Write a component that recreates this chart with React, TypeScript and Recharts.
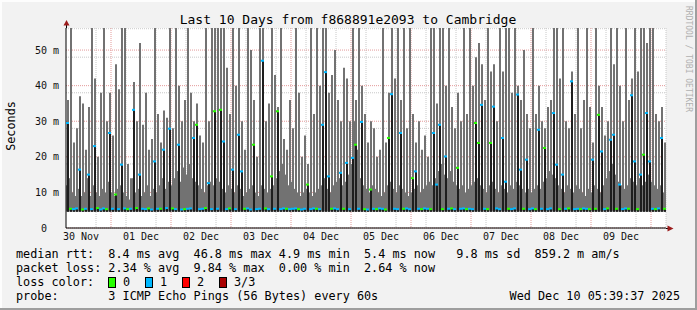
import { Bar, CartesianGrid, ComposedChart, Scatter, XAxis, YAxis } from 'recharts';

/**
 * SmokePing "Last 10 Days" latency graph, f868891e2093 -> Cambridge.
 * 200 slots of 72 min each (3 px per slot on the 600 px plot).
 * Per slot: solid smoke band, the max ping spike, the median (black)
 * and a small median mark coloured by packet loss.
 */

const MONO = '"DejaVu Sans Mono", monospace';

// y scale (ms)
const Y_MAX = 56.2;
const FLOOR_MS = 4.6; // bottom edge of the smoke
const MAJOR_Y = [0, 10, 20, 30, 40, 50];
const MINOR_Y = [2, 4, 6, 8, 12, 14, 16, 18, 22, 24, 26, 28, 32, 34, 36, 38, 42, 44, 46, 48, 52, 54, 56];

// x scale: hours since Nov 30 06:00, one slot = 1.2 h
const HOURS = 240;
const SLOT_HOURS = 1.2;
const DAY_TICKS = [18, 42, 66, 90, 114, 138, 162, 186, 210, 234];
const NOON_TICKS = [6, 30, 54, 78, 102, 126, 150, 174, 198, 222];
const DAY_LABELS = ['30 Nov', '01 Dec', '02 Dec', '03 Dec', '04 Dec', '05 Dec', '06 Dec', '07 Dec', '08 Dec', '09 Dec'];
const SIX_H_TICKS = [6, 12, 24, 30, 36, 48, 54, 60, 72, 78, 84, 96, 102, 108, 120, 126, 132, 144, 150, 156, 168, 174, 180, 192, 198, 204, 216, 222, 228, 240];

// max ping per slot (ms); 56.2 = clipped at the top of the graph
const maxMs = [
  36, 56.2, 24, 28, 37, 35, 22, 34, 56.2, 42, 20, 38, 56.2, 30, 38,
  26, 46, 39, 56.2, 56.2, 18, 14, 41, 30, 52, 29, 38, 22, 25, 56.2, 32, 24, 33, 31, 56.2,
  28, 56.2, 40, 30, 36, 56.2, 38, 30, 35, 26, 24, 56.2, 30, 56.2, 56.2, 56.2, 56.2, 56.2, 45, 32,
  56.2, 40, 56.2, 30, 22, 56.2, 50, 36, 20, 56.2, 56.2, 30, 35, 56.2, 43, 34, 56.2, 25, 22, 36,
  28, 56.2, 38, 20, 26, 18, 56.2, 32, 56.2, 40, 56.2, 56.2, 38, 43, 50, 36, 30, 45, 42, 30,
  56.2, 36, 56.2, 40, 32, 24, 30, 28, 20, 22, 56.2, 24, 38, 56.2, 42, 56.2, 36, 56.2, 28, 56.2,
  32, 24, 30, 22, 26, 20, 56.2, 56.2, 35, 56.2, 56.2, 40, 56.2, 34, 28, 38, 30, 56.2, 32, 56.2,
  40, 48, 52, 46, 36, 56.2, 44, 46, 30, 56.2, 44, 56.2, 56.2, 38, 56.2, 40, 36, 50, 32, 28,
  56.2, 32, 40, 30, 28, 34, 36, 56.2, 56.2, 42, 56.2, 30, 28, 44, 32, 56.2, 28, 36, 56.2, 34,
  24, 56.2, 40, 34, 26, 30, 56.2, 46, 56.2, 40, 30, 56.2, 36, 42, 56.2, 44, 56.2, 56.2, 52, 56.2,
  56.2, 32, 30, 34, 24,
];

// top of the dense smoke band per slot (ms)
const bandMs = [
  12, 14, 10, 9, 11, 9, 10, 14, 9, 12, 10, 9, 11, 10, 13,
  10, 9, 11, 12, 10, 9, 8, 14, 10, 11, 9, 10, 12, 9, 11, 10, 12, 14, 11, 13,
  12, 14, 16, 13, 17, 15, 18, 14, 13, 12, 11, 10, 12, 13, 12, 14, 13, 11, 10, 12,
  11, 10, 12, 11, 9, 10, 11, 12, 10, 9, 12, 11, 10, 11, 12, 14, 16, 18, 15, 12,
  13, 11, 10, 9, 10, 11, 10, 9, 10, 11, 12, 14, 11, 10, 12, 13, 14, 12, 13, 15,
  18, 30, 22, 14, 12, 11, 10, 12, 11, 10, 9, 10, 12, 13, 11, 10, 12, 11, 10, 9,
  10, 11, 12, 10, 11, 12, 13, 12, 14, 16, 18, 15, 14, 16, 13, 12, 11, 12, 10, 11,
  12, 13, 14, 12, 11, 10, 12, 13, 11, 10, 12, 11, 10, 12, 11, 13, 12, 11, 10, 11,
  10, 11, 12, 11, 13, 14, 16, 15, 14, 12, 11, 10, 12, 11, 10, 12, 11, 10, 9, 11,
  10, 12, 11, 10, 12, 14, 16, 18, 15, 13, 12, 11, 12, 14, 13, 12, 14, 12, 13, 15,
  13, 12, 11, 12, 10,
];

// median rtt per slot (ms)
const medMs = [
  29.5, 5.4, 5.3, 5.5, 16.4, 5.2, 5.4, 15.0, 5.3, 23.0, 5.6, 5.2, 5.5, 5.3, 26.7,
  5.4, 9.4, 5.3, 17.8, 5.5, 5.3, 5.4, 33.2, 5.6, 15.0, 5.4, 5.3, 5.5, 5.2, 18.7, 5.4, 5.4, 22.0, 5.6, 27.9,
  5.5, 5.3, 23.4, 5.2, 5.3, 5.4, 5.5, 25.3, 29.0, 5.3, 5.4, 5.6, 12.6, 5.3, 32.8, 5.4, 33.2, 24.3, 5.3, 5.5,
  16.4, 5.3, 26.2, 15.9, 5.4, 5.5, 5.2, 23.4, 5.3, 5.4, 47.0, 5.5, 5.3, 14.5, 5.4, 32.8, 5.3, 5.5, 5.4, 5.3,
  5.4, 5.5, 5.3, 5.2, 5.4, 12.2, 5.3, 5.5, 5.4, 5.3, 29.0, 43.8, 14.5, 5.4, 5.5, 5.3, 15.5, 5.4, 18.3, 5.3,
  19.7, 23.4, 5.4, 29.8, 5.3, 5.2, 10.8, 5.4, 5.3, 5.5, 5.4, 5.2, 25.3, 37.6, 5.4, 5.3, 26.7, 5.4, 5.5, 5.3,
  14.0, 15.9, 5.4, 5.3, 5.5, 5.4, 5.3, 26.7, 12.2, 29.0, 5.3, 20.1, 5.4, 5.5, 5.3, 16.9, 5.4, 5.5, 5.3, 5.4,
  5.3, 29.5, 23.9, 34.6, 5.4, 5.3, 23.9, 34.1, 5.5, 5.3, 25.3, 13.0, 5.4, 5.3, 5.5, 37.5, 16.4, 5.4, 19.2, 5.3,
  5.5, 5.3, 27.6, 5.4, 22.5, 5.3, 5.5, 32.3, 17.8, 5.3, 15.0, 5.4, 5.5, 41.2, 5.3, 5.4, 5.3, 5.5, 5.4, 5.3,
  19.2, 5.4, 31.8, 21.5, 5.3, 5.5, 24.8, 26.2, 5.4, 12.2, 5.3, 5.5, 5.4, 37.3, 18.7, 5.3, 15.0, 20.6, 32.3, 18.7,
  5.4, 5.3, 5.5, 25.3, 5.4,
];

// lost pings per slot (0 of 3, 1 of 3)
const lossIdx = [
  1, 0, 1, 1, 1, 0, 1, 1, 1, 1, 0, 1, 1, 0, 1,
  1, 0, 1, 1, 1, 0, 1, 1, 0, 1, 1, 1, 0, 1, 1, 1, 0, 1, 1, 1,
  0, 1, 1, 1, 0, 1, 1, 1, 0, 1, 1, 0, 1, 1, 0, 1, 0, 1, 1, 0,
  1, 1, 1, 1, 0, 1, 1, 0, 1, 1, 1, 0, 1, 0, 1, 0, 1, 1, 0, 1,
  1, 1, 0, 1, 1, 0, 1, 1, 0, 1, 1, 1, 1, 0, 1, 1, 1, 0, 1, 1,
  1, 0, 1, 1, 0, 1, 0, 1, 0, 1, 1, 0, 0, 1, 1, 1, 1, 0, 1, 1,
  0, 1, 1, 0, 1, 1, 0, 1, 1, 1, 0, 1, 1, 0, 1, 0, 1, 1, 0, 1,
  1, 0, 0, 1, 1, 0, 0, 1, 1, 1, 1, 1, 0, 1, 1, 1, 1, 0, 1, 1,
  1, 0, 1, 1, 0, 1, 1, 1, 1, 0, 1, 1, 0, 1, 1, 1, 0, 1, 1, 0,
  1, 0, 0, 1, 1, 0, 1, 1, 0, 1, 1, 1, 0, 1, 1, 0, 1, 0, 1, 1,
  1, 0, 1, 1, 0,
];

const LOSS_COLORS = ['#26ff00', '#00b8ff', '#ff0000', '#a80000'];
const LOSS_LABELS = ['0', '1', '2', '3/3'];

const LEGEND_LINES = [
  'median rtt:  8.4 ms avg  46.8 ms max 4.9 ms min  5.4 ms now   9.8 ms sd  859.2 m am/s',
  'packet loss: 2.34 % avg  9.84 % max  0.00 % min  2.64 % now',
  'loss color:',
  'probe:       3 ICMP Echo Pings (56 Bytes) every 60s',
];
const TITLE = 'Last 10 Days from f868891e2093 to Cambridge';
const STAMP = 'Wed Dec 10 05:39:37 2025';

const rows = maxMs.map((m, i) => ({
  slot: i,
  hour: (i + 0.5) * SLOT_HOURS,
  max: m,
  band: bandMs[i],
  med: medMs[i],
  loss: lossIdx[i],
}));

const SMOKE = '#727272';
const MEDIAN_BAR = '#1e1e1e';
const ARROW = '#9b1c1c';

function MedianMark(props: any) {
  const { cx, cy, payload } = props;
  if (cx == null || cy == null) return null;
  return <rect x={cx - 1.5} y={cy - 1} width={3} height={2} fill={LOSS_COLORS[payload.loss]} />;
}

export default function App() {
  return (
    <div
      style={{
        position: 'absolute',
        left: 0,
        top: 0,
        width: 697,
        height: 310,
        background: '#f2f2f2',
        overflow: 'hidden',
      }}
    >
      <ComposedChart width={697} height={310} data={rows} margin={{ top: 28, right: 31, bottom: 52, left: 0 }}>
        <XAxis
          xAxisId="t"
          dataKey="hour"
          type="number"
          domain={[0, HOURS]}
          ticks={NOON_TICKS}
          allowDataOverflow
          height={30}
          tickFormatter={(v: number) => DAY_LABELS[NOON_TICKS.indexOf(v)]}
          axisLine={{ stroke: '#000' }}
          tickLine={false}
          tickSize={0}
          tickMargin={5}
          tick={{ fontFamily: MONO, fontSize: 10, fill: '#111' }}
        />
        <XAxis xAxisId="band" dataKey="slot" type="category" orientation="top" hide />
        <XAxis xAxisId="spike" dataKey="slot" type="category" orientation="top" hide />
        <XAxis xAxisId="med" dataKey="slot" type="category" orientation="top" hide />
        <YAxis
          yAxisId="ms"
          type="number"
          domain={[0, Y_MAX]}
          ticks={MAJOR_Y}
          allowDataOverflow
          width={66}
          tickFormatter={(v: number) => (v === 0 ? '0\u00a0\u00a0' : `${v} m`)}
          axisLine={{ stroke: '#000' }}
          tickLine={false}
          tickSize={0}
          tickMargin={7}
          tick={{ fontFamily: MONO, fontSize: 10, fill: '#111' }}
        />
        <CartesianGrid
          xAxisId="t"
          yAxisId="ms"
          horizontalValues={MINOR_Y}
          verticalValues={SIX_H_TICKS}
          stroke="#c8c8c8"
          strokeDasharray="1 1"
          fill="#ffffff"
        />
        <CartesianGrid
          xAxisId="t"
          yAxisId="ms"
          horizontalValues={MAJOR_Y}
          verticalValues={DAY_TICKS}
          stroke="#e39a9a"
          strokeDasharray="1 1"
        />
        <Bar
          xAxisId="band"
          yAxisId="ms"
          dataKey={(d: any) => [FLOOR_MS, d.band]}
          barSize={3}
          fill={SMOKE}
          isAnimationActive={false}
        />
        <Bar
          xAxisId="spike"
          yAxisId="ms"
          dataKey={(d: any) => [FLOOR_MS, d.max]}
          barSize={2}
          fill={SMOKE}
          isAnimationActive={false}
        />
        <Bar
          xAxisId="med"
          yAxisId="ms"
          dataKey={(d: any) => [FLOOR_MS, d.med]}
          barSize={2}
          fill={MEDIAN_BAR}
          isAnimationActive={false}
        />
        <Scatter xAxisId="band" yAxisId="ms" dataKey="med" shape={MedianMark} isAnimationActive={false} />
      </ComposedChart>

      <svg width={697} height={310} style={{ position: 'absolute', left: 0, top: 0, pointerEvents: 'none' }}>
        {/* 3d frame */}
        <rect x={0} y={0} width={697} height={2} fill="#fdfdfd" />
        <rect x={0} y={0} width={2} height={310} fill="#fdfdfd" />
        <rect x={0} y={308} width={697} height={2} fill="#9e9e9e" />
        <rect x={695} y={0} width={2} height={310} fill="#9e9e9e" />

        {/* axis arrows */}
        <line x1={66.5} y1={28} x2={66.5} y2={23} stroke="#000" />
        <polygon points="63.5,25.5 69.5,25.5 66.5,20" fill={ARROW} />
        <line x1={666} y1={228.5} x2={669} y2={228.5} stroke="#000" />
        <polygon points="667.5,225.5 667.5,231.5 673.5,228.5" fill={ARROW} />

        <text x={348} y={24} textAnchor="middle" fontFamily={MONO} fontSize={13} fill="#000">
          {TITLE}
        </text>
        <text
          x={11}
          y={126}
          transform="rotate(-90 11 126)"
          textAnchor="middle"
          dominantBaseline="central"
          fontFamily={MONO}
          fontSize={11.8}
          fill="#000"
        >
          Seconds
        </text>
        <text
          x={688}
          y={59}
          transform="rotate(90 688 59)"
          textAnchor="middle"
          dominantBaseline="central"
          fontFamily={MONO}
          fontSize={8}
          fill="#b0b0b0"
        >
          RRDTOOL / TOBI OETIKER
        </text>

        {LEGEND_LINES.map((line, i) => (
          <text
            key={i}
            x={16}
            y={258 + i * 14}
            fontFamily={MONO}
            fontSize={11.8}
            fill="#000"
            style={{ whiteSpace: 'pre' }}
          >
            {line}
          </text>
        ))}
        {LOSS_COLORS.map((c, i) => (
          <g key={c}>
            <rect x={108.5 + i * 37} y={277.5} width={7} height={10} fill={c} stroke="#000" />
            <text x={123 + i * 37} y={286} fontFamily={MONO} fontSize={11.8} fill="#000">
              {LOSS_LABELS[i]}
            </text>
          </g>
        ))}
        <text x={680} y={300} textAnchor="end" fontFamily={MONO} fontSize={11.8} fill="#000">
          {STAMP}
        </text>
      </svg>
    </div>
  );
}
